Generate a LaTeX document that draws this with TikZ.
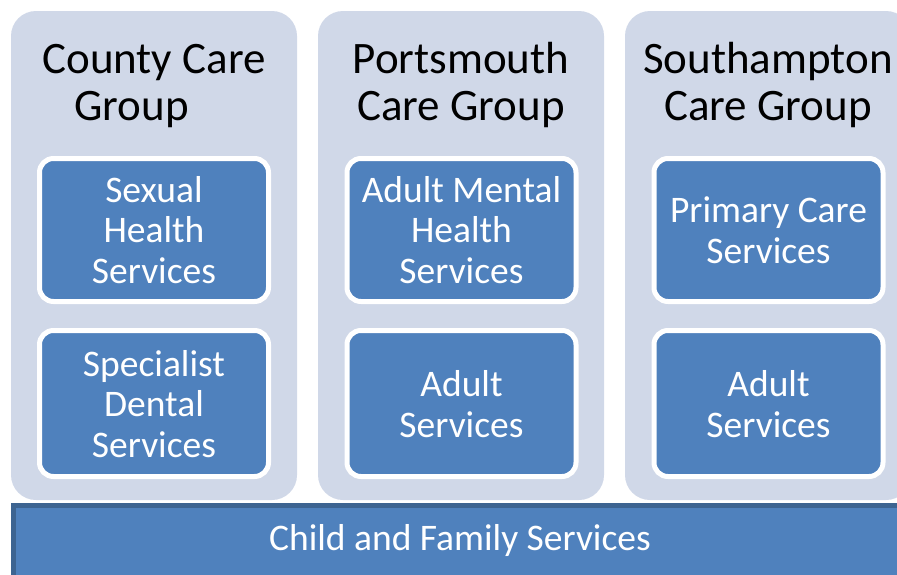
\documentclass[tikz,border=0pt]{standalone}
\usepackage{fontspec}
\setmainfont{Carlito}
\definecolor{groupfill}{HTML}{D0D8E8}
\definecolor{svcblue}{HTML}{4F81BD}
\definecolor{barborder}{HTML}{3D6491}
\begin{document}
\begin{tikzpicture}[x=1pt,y=-1pt,
  groupbox/.style={fill=groupfill, rounded corners=25pt, inner sep=0pt, minimum width=286pt, minimum height=489pt},
  svcbox/.style={fill=svcblue, draw=white, line width=5pt, rounded corners=14pt, inner sep=0pt, minimum width=229pt},
  heading/.style={anchor=north, inner sep=0pt, align=center, font=\fontsize{45}{47.5}\selectfont, text=black},
  svctext/.style={anchor=north, inner sep=0pt, align=center, font=\fontsize{37.5}{40.5}\selectfont, text=white},
]
\useasboundingbox (0,0) rectangle (897,574);
\fill[white] (0,0) rectangle (897,574);

% group panels
\node[groupbox] (county) at (154,255.5) {};
\node[groupbox] (ports) at (461,255.5) {};
\node[groupbox] (soton) at (768,255.5) {};

% service boxes
\node[svcbox, minimum height=143pt] (sexual) at (154,230) {};
\node[svcbox, minimum height=146pt] (dental) at (154,403.5) {};
\node[svcbox, minimum height=143pt] (amh) at (461.5,230) {};
\node[svcbox, minimum height=146pt] (padult) at (461.5,403.5) {};
\node[svcbox, minimum height=143pt] (primary) at (768.5,230) {};
\node[svcbox, minimum height=146pt] (sadult) at (768.5,403.5) {};

% headings
\node[heading] (countyh) at (154,28) {\rule{0pt}{45pt}County Care\\Group\hspace*{45pt}};
\node[heading] (portsh) at (461,28) {\rule{0pt}{45pt}Portsmouth\\Care Group};
\node[heading] (sotonh) at (768,28) {\rule{0pt}{45pt}Southampton\\Care Group};

% service texts
\node[svctext] (sexualt) at (154,164.5) {\rule{0pt}{37.5pt}Sexual\\Health\\Services};
\node[svctext] (dentalt) at (154,338.5) {\rule{0pt}{37.5pt}Specialist\\Dental\\Services};
\node[svctext] (amht) at (461.5,164.5) {\rule{0pt}{37.5pt}Adult Mental\\Health\\Services};
\node[svctext] (padultt) at (461.5,359) {\rule{0pt}{37.5pt}Adult\\Services};
\node[svctext] (primaryt) at (768.5,185) {\rule{0pt}{37.5pt}Primary Care\\Services};
\node[svctext] (sadultt) at (768.5,359) {\rule{0pt}{37.5pt}Adult\\Services};

% bottom bar
\node[draw=barborder, fill=svcblue, line width=5pt, inner sep=0pt, anchor=north west,
      minimum width=930pt, minimum height=100pt] (bar) at (10.5,502.5) {};
\node[anchor=base, inner sep=0pt, font=\fontsize{37.5}{40.5}\selectfont, text=white] (bart) at (460,550) {Child and Family Services};
\end{tikzpicture}
\end{document}
